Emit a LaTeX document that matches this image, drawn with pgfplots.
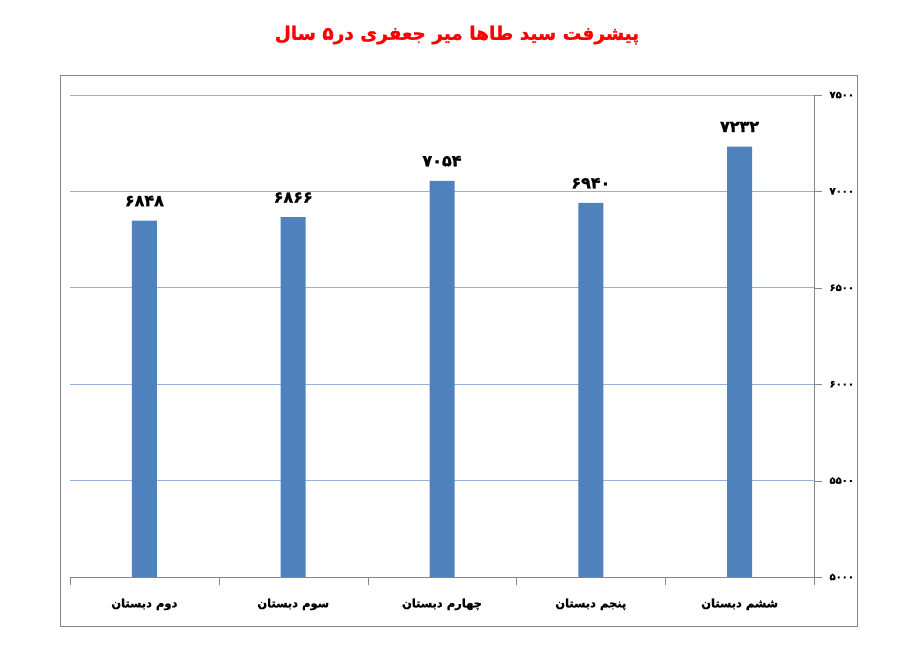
\documentclass[border=0pt]{standalone}
\usepackage{pgfplots}
\pgfplotsset{compat=1.18}
\usepackage{fontspec}
\TeXXeTstate=1
\newfontfamily\arabicfont[Script=Arabic]{DejaVu Sans}
\newfontfamily\arabicheavy[Script=Arabic, FakeBold=1.2]{DejaVu Sans Bold}
\definecolor{barblue}{RGB}{79,129,189}
\definecolor{gridblue}{RGB}{149,179,215}
\definecolor{axisgray}{RGB}{134,134,134}
\begin{document}
\begin{tikzpicture}
\path[use as bounding box] (-70pt,-90pt) rectangle (837pt,577pt);
\begin{axis}[
  scale only axis, width=744pt, height=482pt,
  xmin=-0.5, xmax=4.5, ymin=5000, ymax=7500,
  ybar, bar width=25pt,
  axis x line*=bottom, axis y line*=right,
  axis line style={draw=axisgray, -},
  xtick={0,1,2,3,4},
  xticklabels={
    {\beginR دوم دبستان\endR},
    {\beginR سوم دبستان\endR},
    {\beginR چهارم دبستان\endR},
    {\beginR پنجم دبستان\endR},
    {\beginR ششم دبستان\endR}},
  minor xtick={-0.5,0.5,...,4.5},
  major x tick style={draw=none},
  minor x tick style={draw=axisgray},
  minor tick length=8pt,
  major tick length=8pt,
  tick align=outside,
  ytick={5000,5500,...,7500},
  yticklabels={۵۰۰۰,۵۵۰۰,۶۰۰۰,۶۵۰۰,۷۰۰۰,۷۵۰۰},
  y tick style={draw=axisgray},
  ymajorgrids, grid style={gridblue, line width=0.7pt},
  xticklabel style={font=\arabicheavy\fontsize{11.5}{14}\selectfont, yshift=-10pt},
  yticklabel style={font=\arabicheavy\fontsize{10}{12}\selectfont, xshift=4pt},
  nodes near coords, point meta=explicit symbolic,
  every node near coord/.append style={font=\arabicheavy\fontsize{16}{18}\selectfont, yshift=11pt},
]
\addplot[fill=barblue, draw=none] coordinates {
  (0,6848) [۶۸۴۸]
  (1,6866) [۶۸۶۶]
  (2,7054) [۷۰۵۴]
  (3,6940) [۶۹۴۰]
  (4,7232) [۷۲۳۲]
};
\end{axis}
\draw[axisgray, line width=0.8pt] (-10pt,502pt) rectangle (787pt,-49pt);
\node[text=red, font=\arabicheavy\fontsize{18.5}{22}\selectfont] at (387pt,542pt) {\beginR پیشرفت سید طاها میر جعفری در۵ سال\endR};
\end{tikzpicture}
\end{document}
